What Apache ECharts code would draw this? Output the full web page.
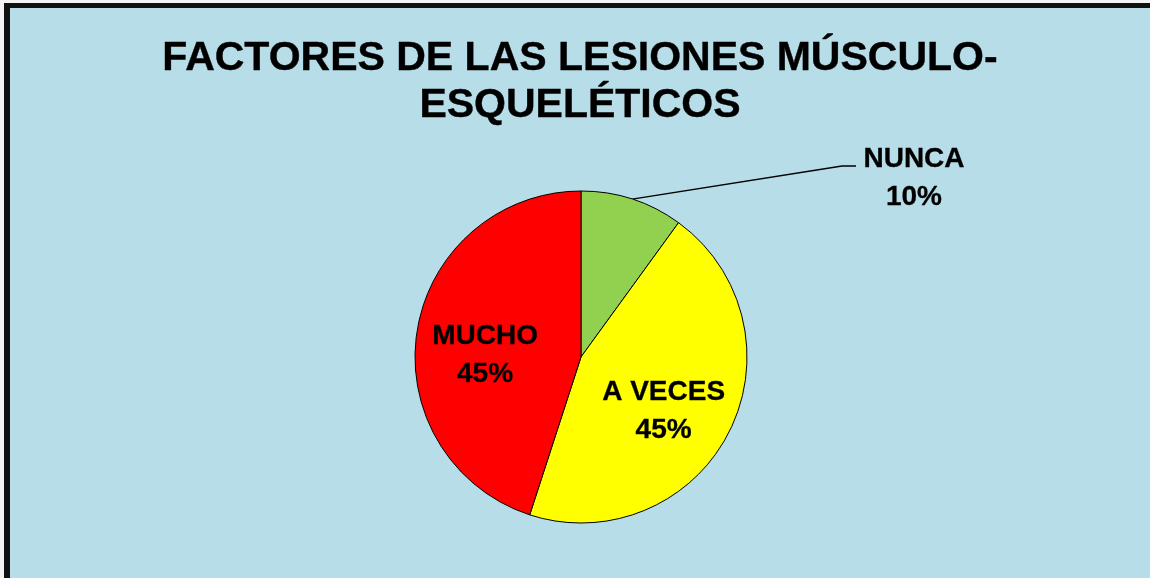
<!DOCTYPE html>
<html>
<head>
<meta charset="utf-8">
<script src="https://cdn.jsdelivr.net/npm/echarts@6/dist/echarts.min.js"></script>
<style>
    html, body { margin: 0; padding: 0; background: #f4f4f4; }
    #wrap {
        position: absolute; left: 4px; top: 3px;
        border-left: 6px solid #111; border-top: 5px solid #111;
    }
    #chart { width: 1140px; height: 570px; background: #b7dde8; }
</style>
</head>
<body>
<div id="wrap"><div id="chart"></div></div>
<script>
const titleText = "FACTORES DE LAS LESIONES MÚSCULO-\nESQUELÉTICOS";
const categories = ["NUNCA", "A VECES", "MUCHO"];
const values = [10, 45, 45];
const colors = ["#92d050", "#ffff00", "#ff0000"];
// nudges for the inside labels
const labelOffsets = [[0, 0], [6, 15], [-11, 12]];

const chart = echarts.init(document.getElementById("chart"));

const pieData = categories.map((name, i) => ({
    name: name,
    value: values[i],
    itemStyle: { color: colors[i] },
    label: i === 0
        ? { position: "outside" }
        : { position: "inside", offset: labelOffsets[i] },
    labelLine: { show: i === 0 }
}));

chart.setOption({
    animation: false,
    title: {
        text: titleText,
        left: "center",
        top: 22,
        textStyle: {
            fontFamily: "Liberation Sans",
            fontWeight: "bold",
            fontSize: 41,
            lineHeight: 47,
            color: "#000",
            textBorderColor: "#000",
            textBorderWidth: 0.4
        }
    },
    series: [
        {
            type: "pie",
            center: [571, 349],
            radius: 166,
            startAngle: 90,
            clockwise: true,
            data: pieData,
            itemStyle: { borderColor: "#000", borderWidth: 1 },
            label: {
                formatter: "{b}\n{d}%",
                fontFamily: "Liberation Sans",
                fontWeight: "bold",
                fontSize: 28,
                lineHeight: 38,
                align: "center",
                color: "#000",
                textBorderColor: "#000",
                textBorderWidth: 0.3
            },
            labelLine: {
                lineStyle: { color: "#000", width: 1.5 }
            },
            labelLayout: function (params) {
                if (params.dataIndex !== 0) return {};
                const lx = 904, ly = 170;
                const pts = params.labelLinePoints;
                const start = pts ? pts[0] : [624, 192];
                return {
                    x: lx,
                    y: ly,
                    align: "center",
                    verticalAlign: "middle",
                    labelLinePoints: [start, [832, 158], [846, 158]]
                };
            }
        }
    ]
});
</script>
</body>
</html>
